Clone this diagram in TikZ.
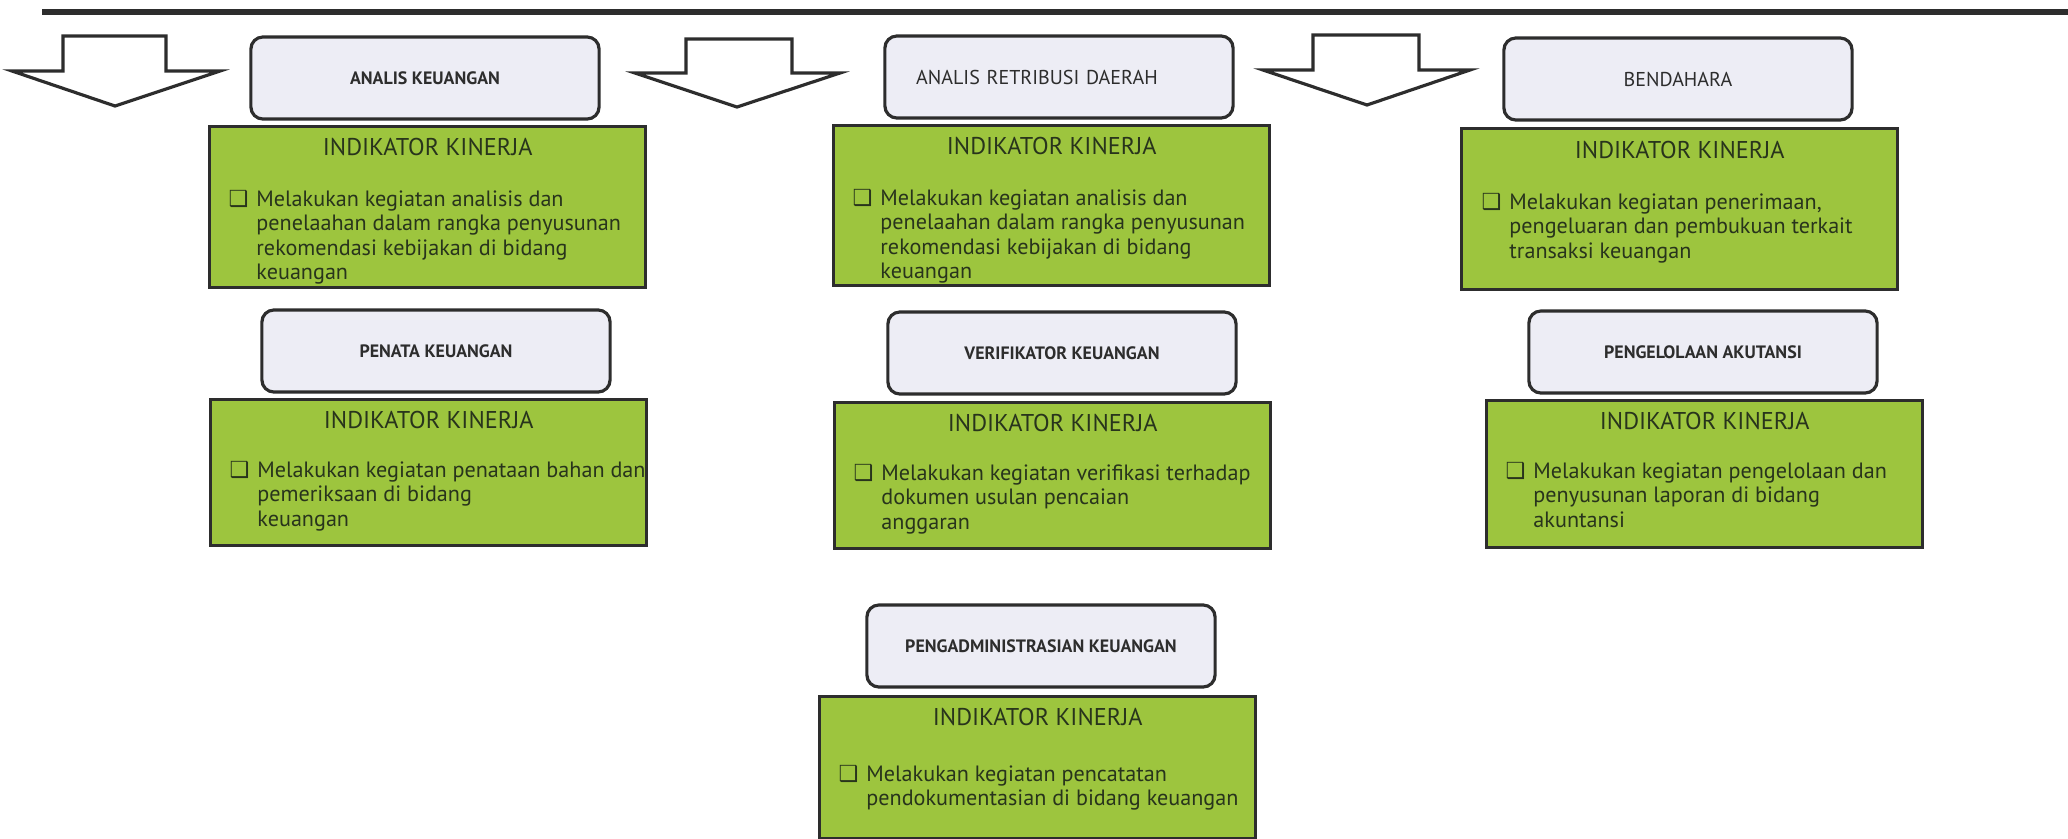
\documentclass[tikz,border=0pt]{standalone}
\usepackage{fontspec}
\setmainfont{PT Sans}
\newfontfamily\simbol{DejaVu Sans}
\usepackage{tikz}
\usetikzlibrary{positioning}
\definecolor{hijau}{RGB}{157,197,62}
\definecolor{ungu}{RGB}{237,237,245}
\definecolor{garis}{RGB}{45,45,45}
\definecolor{teks}{RGB}{40,52,28}
\newcommand{\kotak}{{\simbol ❑}}

\begin{document}
\begin{tikzpicture}[x=0.01cm, y=-0.01cm, line width=0.9pt,
	jabatan/.style={rectangle,draw=garis,fill=ungu,rounded corners=0.12cm,minimum width=3.48cm,minimum height=0.82cm,inner sep=0pt,text=garis,font=\fontsize{5.1}{6}\selectfont\bfseries},
	jabatanbesar/.style={jabatan,font=\fontsize{5.7}{6}\selectfont},
	indikator/.style={rectangle,draw=garis,fill=hijau,anchor=north west,minimum width=4.36cm,inner sep=0pt},
	judul/.style={inner sep=0pt,text=teks,font=\fontsize{6.9}{7}\selectfont},
	uraian/.style={anchor=base west,inner sep=0pt,text=teks,font=\fontsize{6.3}{7}\selectfont},
	panah/.style={draw=garis,fill=white,line join=miter}]
		\useasboundingbox (0,0) rectangle (2068,839);
		\draw [garis, line width=1.5pt] (42,12) -- (2068,12);

		% panah ke bawah
		\draw [panah] (63,36) -- (166,36) -- (166,71) -- (220,71) -- (115,106) -- (12,71) -- (63,71) -- cycle;
		\draw [panah] (686,39) -- (792,39) -- (792,73) -- (840,73) -- (737,107) -- (635,73) -- (686,73) -- cycle;
		\draw [panah] (1313,35) -- (1419,35) -- (1419,70) -- (1470,70) -- (1367,105) -- (1263,70) -- (1313,70) -- cycle;

		% baris pertama
		\node [jabatan] (analis) at (425,78) {ANALIS KEUANGAN};
		\node [indikator, minimum height=1.61cm] (ik1) at (208,125) {};
		\node [judul] (jd1) at ([yshift=-0.22cm]ik1.north) {INDIKATOR KINERJA};
		\node [uraian] (ur1) at ([xshift=0.19cm,yshift=-0.81cm]ik1.north west) {\begin{tabular}[t]{@{}l@{\hspace{0.08cm}}l@{}}\kotak & Melakukan kegiatan analisis dan\\ & penelaahan dalam rangka penyusunan\\ & rekomendasi kebijakan di bidang\\ & keuangan\end{tabular}};

		\node [jabatanbesar, text width=3.48cm, align=center] (retribusi) at (1059,77) {\hspace*{-0.44cm}ANALIS RETRIBUSI DAERAH};
		\node [indikator, minimum height=1.6cm] (ik2) at (832,124) {};
		\node [judul] (jd2) at ([yshift=-0.22cm]ik2.north) {INDIKATOR KINERJA};
		\node [uraian] (ur2) at ([xshift=0.19cm,yshift=-0.81cm]ik2.north west) {\begin{tabular}[t]{@{}l@{\hspace{0.08cm}}l@{}}\kotak & Melakukan kegiatan analisis dan\\ & penelaahan dalam rangka penyusunan\\ & rekomendasi kebijakan di bidang\\ & keuangan\end{tabular}};

		\node [jabatanbesar] (bendahara) at (1678,79) {BENDAHARA};
		\node [indikator, minimum height=1.61cm] (ik3) at (1460,127) {};
		\node [judul] (jd3) at ([yshift=-0.23cm]ik3.north) {INDIKATOR KINERJA};
		\node [uraian] (ur3) at ([xshift=0.2cm,yshift=-0.82cm]ik3.north west) {\begin{tabular}[t]{@{}l@{\hspace{0.08cm}}l@{}}\kotak & Melakukan kegiatan penerimaan,\\ & pengeluaran dan pembukuan terkait\\ & transaksi keuangan\end{tabular}};

		% baris kedua
		\node [jabatan] (penata) at (436,351) {PENATA KEUANGAN};
		\node [indikator, minimum height=1.46cm] (ik4) at (209,398) {};
		\node [judul] (jd4) at ([yshift=-0.22cm]ik4.north) {INDIKATOR KINERJA};
		\node [uraian] (ur4) at ([xshift=0.19cm,yshift=-0.79cm]ik4.north west) {\begin{tabular}[t]{@{}l@{\hspace{0.08cm}}l@{}}\kotak & Melakukan kegiatan penataan bahan dan\\ & pemeriksaan di bidang\\ & keuangan\end{tabular}};

		\node [jabatan] (verifikator) at (1062,353) {VERIFIKATOR KEUANGAN};
		\node [indikator, minimum height=1.46cm] (ik5) at (833,401) {};
		\node [judul] (jd5) at ([yshift=-0.22cm]ik5.north) {INDIKATOR KINERJA};
		\node [uraian] (ur5) at ([xshift=0.19cm,yshift=-0.79cm]ik5.north west) {\begin{tabular}[t]{@{}l@{\hspace{0.08cm}}l@{}}\kotak & Melakukan kegiatan verifikasi terhadap\\ & dokumen usulan pencaian\\ & anggaran\end{tabular}};

		\node [jabatan] (akutansi) at (1703,352) {PENGELOLAAN AKUTANSI};
		\node [indikator, minimum height=1.47cm] (ik6) at (1485,399) {};
		\node [judul] (jd6) at ([yshift=-0.22cm]ik6.north) {INDIKATOR KINERJA};
		\node [uraian] (ur6) at ([xshift=0.19cm,yshift=-0.79cm]ik6.north west) {\begin{tabular}[t]{@{}l@{\hspace{0.08cm}}l@{}}\kotak & Melakukan kegiatan pengelolaan dan\\ & penyusunan laporan di bidang\\ & akuntansi\end{tabular}};

		% baris ketiga
		\node [jabatan] (administrasi) at (1041,646) {PENGADMINISTRASIAN KEUANGAN};
		\node [indikator, minimum height=1.42cm] (ik7) at (818,695) {};
		\node [judul] (jd7) at ([yshift=-0.22cm]ik7.north) {INDIKATOR KINERJA};
		\node [uraian] (ur7) at ([xshift=0.19cm,yshift=-0.86cm]ik7.north west) {\begin{tabular}[t]{@{}l@{\hspace{0.08cm}}l@{}}\kotak & Melakukan kegiatan pencatatan\\ & pendokumentasian di bidang keuangan\end{tabular}};
\end{tikzpicture}
\end{document}
